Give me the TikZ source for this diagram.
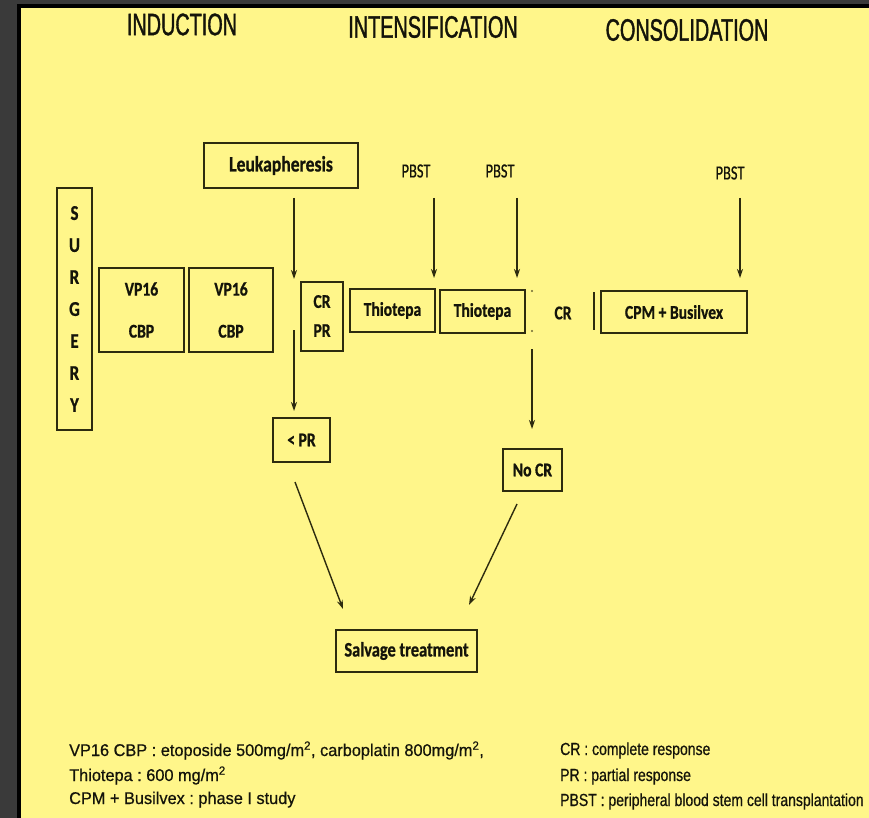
\documentclass[tikz,border=0pt]{standalone}
\usepackage{fontspec}
\usetikzlibrary{arrows.meta}
\newfontfamily\titlefont[FakeStretch=0.64,FakeBold=1.2]{Liberation Sans}
\newfontfamily\legfontL[FakeStretch=0.96,FakeBold=0.6]{Liberation Sans}
\newfontfamily\legfontR[FakeStretch=0.8,FakeBold=0.6]{Liberation Sans}
\newfontfamily\boxfont[FakeStretch=0.8,FakeBold=0.8]{Carlito}
\newfontfamily\pbfont[FakeStretch=0.72,FakeBold=0.6]{Carlito}
\definecolor{bgyel}{RGB}{255,246,138}
\definecolor{outgrey}{RGB}{58,58,58}
\definecolor{ln}{RGB}{45,43,15}
\definecolor{tx}{RGB}{20,20,10}
\tikzset{
  box/.style={draw=ln, line width=2pt, inner sep=0pt, text=tx, align=center,
    font=\boxfont\bfseries\fontsize{19.5}{23}\selectfont},
  ttl/.style={text=tx, inner sep=0pt, font=\titlefont\fontsize{31}{36}\selectfont},
  pbst/.style={text=tx, inner sep=0pt, font=\pbfont\fontsize{20}{24}\selectfont},
  legl/.style={text=tx, inner sep=0pt, anchor=base west, font=\legfontL\fontsize{17}{20}\selectfont},
  legr/.style={text=tx, inner sep=0pt, anchor=base west, font=\legfontR\fontsize{17.5}{20}\selectfont},
  arr/.style={draw=ln, line width=1.4pt, -{Stealth[length=9pt,width=6pt]}},
}
\begin{document}
\frenchspacing
\begin{tikzpicture}[x=1pt,y=-1pt]
\useasboundingbox (0,0) rectangle (869,818);
\fill[outgrey] (0,0) rectangle (869,818);
\fill[black] (17,4) rectangle (869,818);
\fill[bgyel] (21,8) rectangle (869,818);

% titles
\node[ttl] (tind) at (182,24.5) {INDUCTION};
\node[ttl] (tint) at (433,27) {INTENSIFICATION};
\node[ttl] (tcon) at (687,30) {CONSOLIDATION};

% boxes
\node[box, minimum width=154pt, minimum height=45pt, font=\boxfont\bfseries\fontsize{22}{26}\selectfont] (leuk) at (281,165.5) {Leukapheresis};
\node[box, minimum width=35pt, minimum height=241pt, font=\boxfont\bfseries\fontsize{21}{32}\selectfont] (surg) at (74.5,309) {S\\U\\R\\G\\E\\R\\Y};
\node[box, minimum width=85pt, minimum height=84pt, font=\boxfont\bfseries\fontsize{19.5}{42}\selectfont] (vp1) at (141.5,310) {VP16\\CBP};
\node[box, minimum width=84pt, minimum height=84pt, font=\boxfont\bfseries\fontsize{19.5}{42}\selectfont] (vp2) at (231,310) {VP16\\CBP};
\node[box, minimum width=42pt, minimum height=69pt, font=\boxfont\bfseries\fontsize{19.5}{29}\selectfont] (crpr) at (322,316) {CR\\PR};
\node[box, minimum width=85pt, minimum height=43pt] (thio1) at (392.5,310.5) {Thiotepa};
\node[box, minimum width=85pt, minimum height=43pt] (thio2) at (482.5,311.5) {Thiotepa};
\node[box, minimum width=146pt, minimum height=42pt] (cpm) at (674,312) {CPM + Busilvex};
\node[box, minimum width=57pt, minimum height=44pt] (ltpr) at (301.5,440) {< PR};
\node[box, minimum width=59pt, minimum height=42pt] (nocr) at (532.5,470) {No CR};
\node[box, minimum width=141pt, minimum height=42pt, font=\boxfont\bfseries\fontsize{20.5}{24}\selectfont] (salv) at (406.5,651) {Salvage treatment};

% free labels
\node[pbst] (pb1) at (416,171) {PBST};
\node[pbst] (pb2) at (500,171) {PBST};
\node[pbst] (pb3) at (730,173) {PBST};
\node[text=tx, inner sep=0pt, font=\boxfont\bfseries\fontsize{19.5}{23}\selectfont] (crt) at (563,313) {CR};

% marks
\coordinate (bar1) at (594,292);
\coordinate (bar2) at (594,330);
\draw[ln, line width=1.6pt] (bar1) -- (bar2);
\coordinate (dot1) at (532,291);
\coordinate (dot2) at (532,331);
\fill[ln!70!bgyel] (dot1) circle (1.1pt);
\fill[ln!70!bgyel] (dot2) circle (1.1pt);

% arrows
\coordinate (a1s) at (294,198); \coordinate (a1e) at (294,279);
\coordinate (a2s) at (294,330); \coordinate (a2e) at (294,411);
\coordinate (p1s) at (434,198); \coordinate (p1e) at (434,278);
\coordinate (p2s) at (517,198); \coordinate (p2e) at (517,278);
\coordinate (p3s) at (740,198); \coordinate (p3e) at (740,278);
\coordinate (c1s) at (532,349); \coordinate (c1e) at (532,429);
\coordinate (d1s) at (295,482); \coordinate (d1e) at (343,609);
\coordinate (d2s) at (517,504); \coordinate (d2e) at (469,605);
\draw[arr] (a1s) -- (a1e);
\draw[arr] (a2s) -- (a2e);
\draw[arr] (p1s) -- (p1e);
\draw[arr] (p2s) -- (p2e);
\draw[arr] (p3s) -- (p3e);
\draw[arr] (c1s) -- (c1e);
\draw[arr] (d1s) -- (d1e);
\draw[arr] (d2s) -- (d2e);

% legend
\node[legl] (l1) at (69,756) {VP16 CBP : etoposide 500mg/m\textsuperscript{2}, carboplatin 800mg/m\textsuperscript{2},};
\node[legl] (l2) at (69,781) {Thiotepa : 600 mg/m\textsuperscript{2}};
\node[legl] (l3) at (69,804) {CPM + Busilvex : phase I study};
\node[legr] (r1) at (560,755) {CR : complete response};
\node[legr] (r2) at (560,781) {PR : partial response};
\node[legr] (r3) at (560,806) {PBST : peripheral blood stem cell transplantation};
\end{tikzpicture}
\end{document}
